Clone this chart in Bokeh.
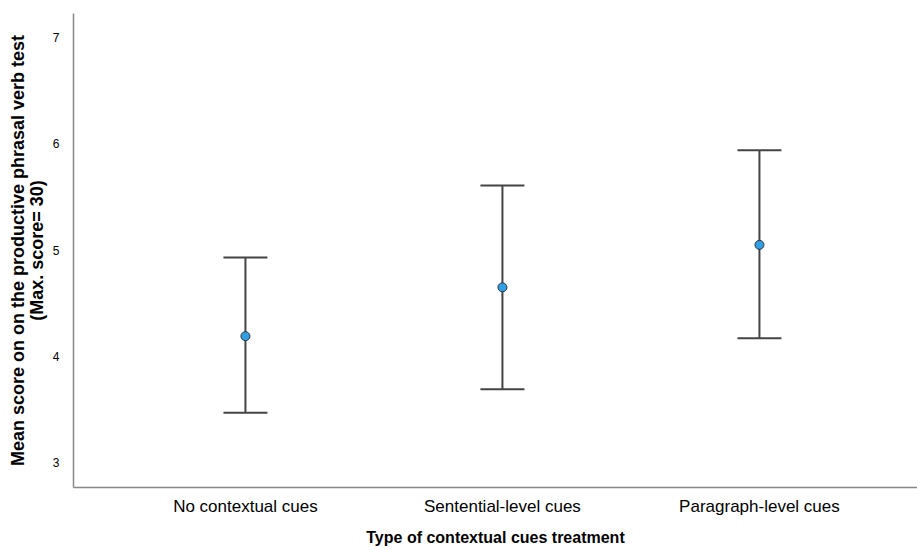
from bokeh.plotting import figure
from bokeh.models import Range1d, FixedTicker, Whisker, ColumnDataSource, TeeHead
from bokeh.embed import file_html
from bokeh.resources import INLINE

categories = ["No contextual cues", "Sentential-level cues", "Paragraph-level cues"]
means = [4.19, 4.65, 5.05]
upper = [4.93, 5.61, 5.94]
lower = [3.47, 3.69, 4.17]
y_ticks = [3, 4, 5, 6, 7]

xs = list(range(1, len(categories) + 1))
src = ColumnDataSource(dict(x=xs, m=means, up=upper, lo=lower))

p = figure(width=917, height=550, output_backend="svg", toolbar_location=None,
           x_range=Range1d(0.331, 3.615), y_range=Range1d(2.765, 7.229),
           min_border_left=73, min_border_right=0, min_border_top=13, min_border_bottom=63)
p.outline_line_color = None
p.xgrid.visible = False
p.ygrid.visible = False
p.background_fill_color = "white"

w = Whisker(source=src, base="x", upper="up", lower="lo", dimension="height",
            line_color="#444444", line_width=2,
            upper_head=TeeHead(size=44, line_color="#444444", line_width=2),
            lower_head=TeeHead(size=44, line_color="#444444", line_width=2))
p.add_layout(w)
p.scatter("x", "m", source=src, size=9, fill_color="#2f9fe8", line_color="#333333", line_width=1)

for ax in (p.xaxis[0], p.yaxis[0]):
    ax.axis_line_color = "#888888"
    ax.axis_line_width = 1.5
    ax.major_tick_line_color = None
    ax.minor_tick_line_color = None
    ax.major_label_text_font = "Liberation Sans"
    ax.axis_label_text_font = "Liberation Sans"
    ax.axis_label_text_font_style = "bold"
    ax.axis_label_text_color = "black"
    ax.major_label_text_color = "black"

p.xaxis.ticker = FixedTicker(ticks=xs)
p.xaxis.major_label_overrides = {x: c for x, c in zip(xs, categories)}
p.xaxis.major_label_text_font_size = "17px"
p.xaxis.major_label_standoff = 3
p.xaxis.axis_label = "Type of contextual cues treatment"
p.xaxis.axis_label_text_font_size = "16px"
p.xaxis.axis_label_standoff = 10

p.yaxis.ticker = FixedTicker(ticks=y_ticks)
p.yaxis.major_label_text_font_size = "12px"
p.yaxis.major_label_standoff = 8
p.yaxis.axis_label = "Mean score on on the productive phrasal verb test\n(Max. score= 30)"
p.yaxis.axis_label_text_font_size = "18px"
p.yaxis.axis_label_text_line_height = 0.95
p.yaxis.axis_label_standoff = 3

open("out.html", "w").write(file_html(p, INLINE))
